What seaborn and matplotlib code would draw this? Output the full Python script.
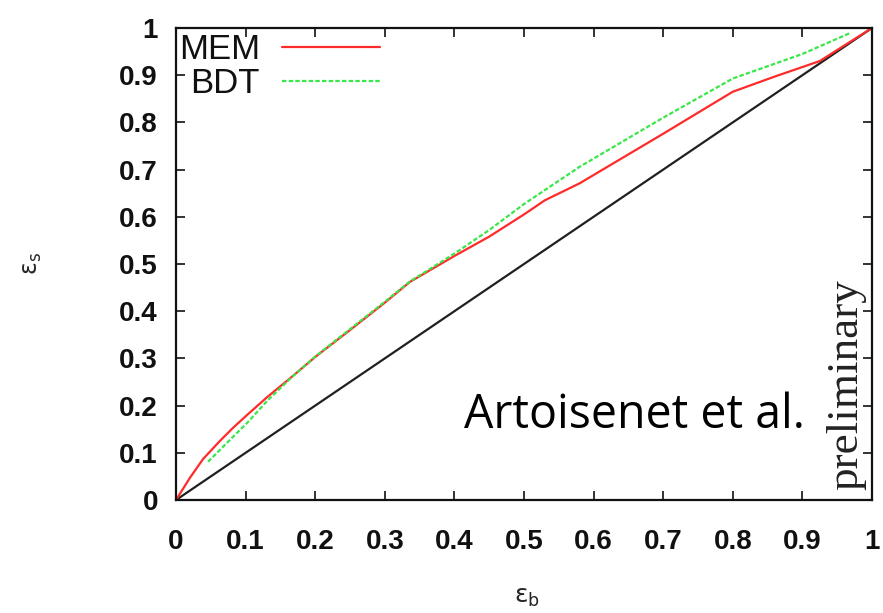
import numpy as np
import pandas as pd
import matplotlib
matplotlib.use("Agg")
import matplotlib.pyplot as plt
import seaborn as sns

# signal efficiency vs background efficiency
mem_x = [0, 0.02, 0.039, 0.063, 0.082, 0.102, 0.131, 0.164, 0.2, 0.25, 0.3, 0.336,
         0.4, 0.45, 0.5, 0.53, 0.58, 0.7, 0.8, 0.86, 0.925, 1.0]
mem_y = [0, 0.047, 0.087, 0.125, 0.153, 0.18, 0.218, 0.258, 0.303, 0.36, 0.418, 0.462,
         0.517, 0.558, 0.605, 0.635, 0.671, 0.776, 0.865, 0.897, 0.93, 1.0]

bdt_x = [0.046, 0.063, 0.082, 0.102, 0.131, 0.164, 0.2, 0.25, 0.3, 0.336, 0.4,
         0.45, 0.5, 0.58, 0.7, 0.8, 0.9, 0.968]
bdt_y = [0.081, 0.106, 0.134, 0.163, 0.21, 0.257, 0.304, 0.362, 0.42, 0.463, 0.522,
         0.572, 0.627, 0.706, 0.81, 0.893, 0.945, 0.989]

diag_x = [0, 1]
diag_y = [0, 1]

ticks = [0, 0.1, 0.2, 0.3, 0.4, 0.5, 0.6, 0.7, 0.8, 0.9, 1]
tick_labels = ["0", "0.1", "0.2", "0.3", "0.4", "0.5", "0.6", "0.7", "0.8", "0.9", "1"]

mem = pd.DataFrame({"eb": mem_x, "es": mem_y})
bdt = pd.DataFrame({"eb": bdt_x, "es": bdt_y})
diag = pd.DataFrame({"eb": diag_x, "es": diag_y})

sns.set_style("ticks")
plt.rcParams["font.family"] = ["Liberation Sans", "DejaVu Sans"]
plt.rcParams["mathtext.fontset"] = "dejavusans"

fig = plt.figure(figsize=(8.83, 6.13), dpi=100)
ax = fig.add_axes([0.1993, 0.1843, 0.7882, 0.77])

sns.lineplot(data=diag, x="eb", y="es", color="#202020", lw=1.6, ax=ax)
sns.lineplot(data=mem, x="eb", y="es", color="#ff2a2a", lw=1.6, ax=ax, label="MEM")
sns.lineplot(data=bdt, x="eb", y="es", color="#3ae64a", lw=1.6, ax=ax, label="BDT",
             linestyle=(0, (2, 1)))

ax.set_xlim(0, 1)
ax.set_ylim(0, 1)
ax.set_xticks(ticks)
ax.set_xticklabels(tick_labels, fontweight="bold")
ax.set_yticks(ticks)
ax.set_yticklabels(tick_labels, fontweight="bold")
ax.tick_params(axis="both", direction="in", length=6.5, width=1.2, top=True, right=True,
               labelsize=20, colors="#111111")
ax.tick_params(axis="x", pad=21)
ax.tick_params(axis="y", pad=13)
for s in ax.spines.values():
    s.set_linewidth(1.6)
    s.set_color("#111111")

ax.set_xlabel(r"$\mathrm{\varepsilon}_\mathrm{b}$", fontsize=18)
ax.set_ylabel(r"$\mathrm{\varepsilon}_\mathrm{s}$", fontsize=17)
ax.xaxis.set_label_coords(0.504, -0.18)
ax.yaxis.set_label_coords(-0.19, 0.5)

leg = ax.legend(loc="upper left", bbox_to_anchor=(0.004, 0.99), frameon=False,
                markerfirst=False, prop={"size": 25},
                handlelength=2.8, handletextpad=0.65,
                labelspacing=0.05, borderpad=0, borderaxespad=0)
for t in leg.get_texts():
    t.set_color("#111111")

ax.text(0.659, 0.153, "Artoisenet et al.", fontsize=33.5, family="Open Sans",
        ha="center", va="baseline", color="black")
ax.text(0.963, 0.021, "preliminary", fontsize=32.5, family="Liberation Serif",
        rotation=90, ha="center", va="bottom", color="#222222")

fig.savefig("out.png", dpi=100)
